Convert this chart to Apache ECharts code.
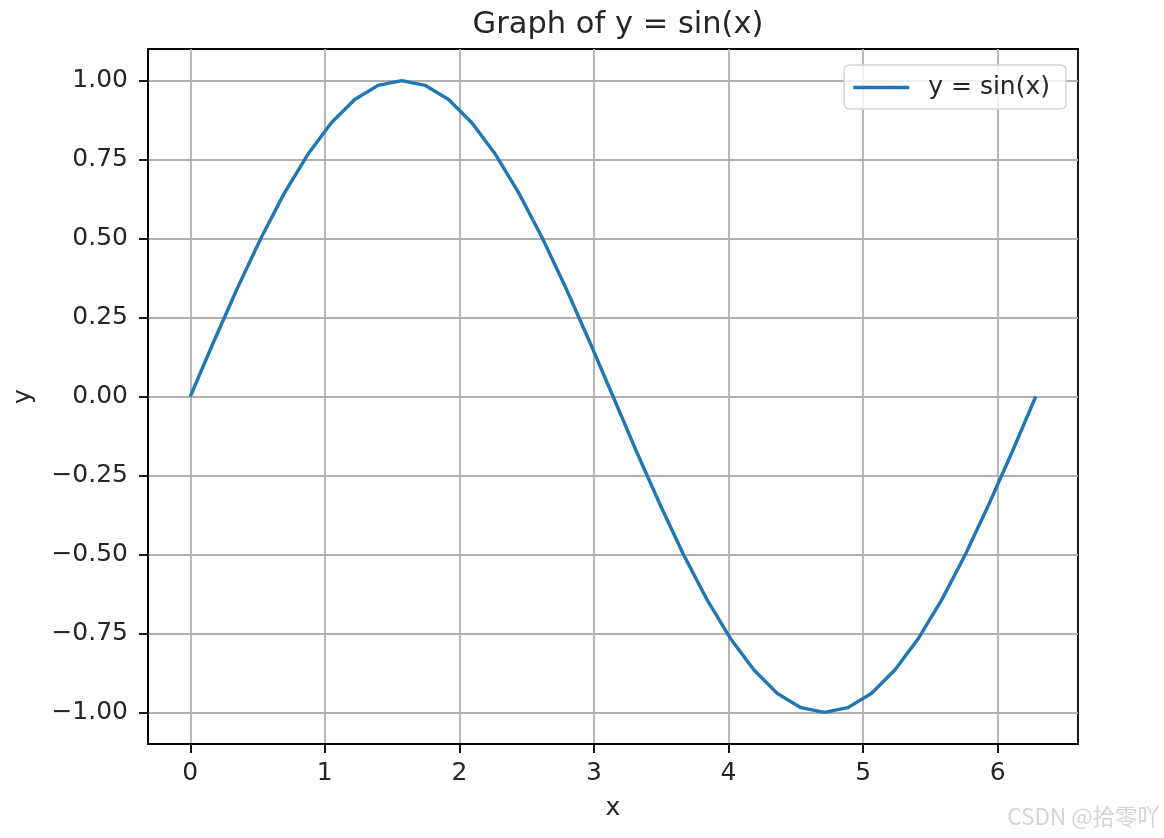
<!DOCTYPE html>
<html>
<head>
<meta charset="utf-8">
<script src="https://cdn.jsdelivr.net/npm/echarts@6/dist/echarts.min.js"></script>
<style>
  html, body { margin: 0; padding: 0; background: #fff; }
  #chart { width: 1164px; height: 838px; }
</style>
</head>
<body>
<div id="chart"></div>
<script>
// x values (radians) read from the plotted vertices
const xs = [0, 0.175, 0.349, 0.524, 0.698, 0.873, 1.047, 1.222, 1.396, 1.571,
  1.745, 1.920, 2.094, 2.269, 2.443, 2.618, 2.793, 2.967, 3.142, 3.316,
  3.491, 3.665, 3.840, 4.014, 4.189, 4.363, 4.538, 4.712, 4.887, 5.061,
  5.236, 5.411, 5.585, 5.760, 5.934, 6.109, 6.283];
const ys = [0, 0.174, 0.342, 0.5, 0.643, 0.766, 0.866, 0.940, 0.985, 1.0,
  0.985, 0.940, 0.866, 0.766, 0.643, 0.5, 0.342, 0.174, 0, -0.174,
  -0.342, -0.5, -0.643, -0.766, -0.866, -0.940, -0.985, -1.0, -0.985, -0.940,
  -0.866, -0.766, -0.643, -0.5, -0.342, -0.174, 0];
const xTicks = [0, 1, 2, 3, 4, 5, 6];
const yTicks = [-1, -0.75, -0.5, -0.25, 0, 0.25, 0.5, 0.75, 1];

const font = 'DejaVu Sans';
const txt = '#262626';
const fs = 25;

const chart = echarts.init(document.getElementById('chart'));
chart.setOption({
  animation: false,
  textStyle: { fontFamily: font },
  title: {
    text: 'Graph of y = sin(x)',
    left: 613,
    textAlign: 'center',
    top: 5,
    textStyle: { fontFamily: font, fontSize: 30.5, fontWeight: 'normal', color: txt }
  },
  legend: {
    data: ['y = sin(x)'],
    right: 98,
    top: 65,
    icon: 'rect',
    itemWidth: 56,
    itemHeight: 3.5,
    itemGap: 0,
    padding: [10, 16, 9, 9],
    borderColor: '#d4d4d4',
    borderWidth: 1.5,
    borderRadius: 5,
    backgroundColor: 'rgba(255,255,255,0.8)',
    textStyle: { fontFamily: font, fontSize: fs, color: txt, padding: [0, 0, 0, 14] }
  },
  grid: {
    left: 148, right: 86, top: 49, bottom: 94,
    outerBoundsMode: 'none',
    show: true, borderColor: '#000', borderWidth: 1.8, backgroundColor: 'transparent'
  },
  xAxis: {
    type: 'value',
    min: -0.314, max: 6.597,
    name: 'x',
    nameLocation: 'middle',
    nameGap: 52,
    nameTextStyle: { fontFamily: font, fontSize: fs, color: txt },
    axisLine: { show: true, onZero: false, lineStyle: { color: '#000', width: 1.8 } },
    axisTick: { show: true, inside: false, length: 9, customValues: xTicks, lineStyle: { color: '#000', width: 1.8 } },
    axisLabel: { show: true, customValues: xTicks, margin: 17, fontFamily: font, fontSize: fs, color: txt },
    splitLine: { show: true, lineStyle: { color: '#b0b0b0', width: 1.8 } }
  },
  yAxis: {
    type: 'value',
    min: -1.1, max: 1.1,
    name: 'y',
    nameLocation: 'middle',
    nameGap: 112,
    nameTextStyle: { fontFamily: font, fontSize: fs, color: txt },
    axisLine: { show: true, onZero: false, lineStyle: { color: '#000', width: 1.8 } },
    axisTick: { show: true, inside: false, length: 9, customValues: yTicks, lineStyle: { color: '#000', width: 1.8 } },
    axisLabel: {
      show: true, customValues: yTicks, margin: 20, fontFamily: font, fontSize: fs, color: txt,
      formatter: v => (v < 0 ? '\u2212' : '') + Math.abs(v).toFixed(2)
    },
    splitLine: { show: true, lineStyle: { color: '#b0b0b0', width: 1.8 } }
  },
  graphic: [{
    type: 'text',
    right: 4,
    top: 805,
    style: {
      text: 'CSDN @拾零吖',
      font: '22.5px "Noto Sans CJK SC", sans-serif',
      fill: '#d4d4d4',
      shadowColor: 'rgba(0,0,0,0.3)',
      shadowBlur: 1,
      shadowOffsetX: 1,
      shadowOffsetY: 1
    }
  }],
  series: [{
    name: 'y = sin(x)',
    type: 'line',
    data: xs.map((x, i) => [x, ys[i]]),
    showSymbol: false,
    lineStyle: { color: '#1f77b4', width: 3.4 },
    itemStyle: { color: '#1f77b4' }
  }]
});
</script>
</body>
</html>
